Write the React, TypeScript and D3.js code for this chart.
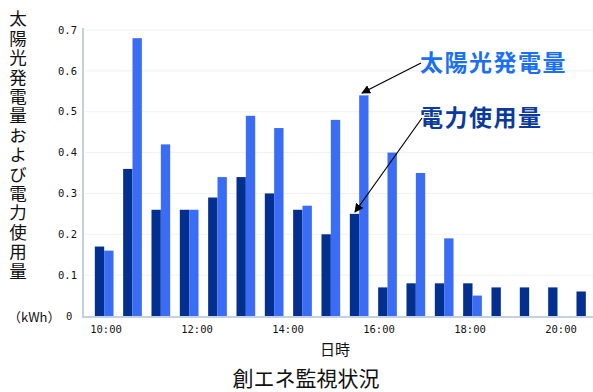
import React from "react";
import * as d3 from "d3";

const slots = ["10:00","10:30","11:00","11:30","12:00","12:30","13:00","13:30","14:00","14:30","15:00","15:30","16:00","16:30","17:00","17:30","18:00","18:30"];
const usage = [0.17,0.36,0.26,0.26,0.29,0.34,0.30,0.26,0.20,0.25,0.07,0.08,0.08,0.08,0.07,0.07,0.07,0.06];
const solar = [0.16,0.68,0.42,0.26,0.34,0.49,0.46,0.27,0.48,0.54,0.40,0.35,0.19,0.05,0,0,0,0];
const xTickLabels = ["10:00","12:00","14:00","16:00","18:00","20:00"];
const yTicks = [0,0.1,0.2,0.3,0.4,0.5,0.6,0.7];
const seriesKeys = ["usage","solar"];

const W = 593, H = 392;
const DARK = "#03308f";
const LIGHT = "#3a6cf5";

export default function App() {
  const y = d3.scaleLinear().domain([0, 0.7]).range([316, 30]);
  const x = d3.scaleBand<string>().domain(slots).range([90, 600]).paddingInner(0.34).paddingOuter(0.17);
  const xi = d3.scaleBand<string>().domain(seriesKeys).range([0, x.bandwidth()]);
  const xt = d3.scalePoint<string>().domain(xTickLabels).range([106, 561]);
  const jp = "'Noto Sans CJK JP', sans-serif";
  const mono = "'DejaVu Sans Mono', monospace";
  const data = slots.map((s, i) => ({ s, usage: usage[i], solar: solar[i] }));

  return (
    <svg width={W} height={H} style={{ position: "absolute", left: 0, top: 0, background: "#fff" }}>
      <defs>
        <marker id="ah" viewBox="0 0 10 10" refX="9" refY="5" markerWidth="9" markerHeight="9" orient="auto" markerUnits="userSpaceOnUse">
          <path d="M0,0 L10,5 L0,10 z" fill="#000" />
        </marker>
      </defs>
      {yTicks.filter(t => t > 0).map(t => (
        <line key={t} x1={85} x2={593} y1={y(t)} y2={y(t)} stroke="#f1f1f1" strokeWidth={1} />
      ))}
      {data.map(d => (
        <g key={d.s} transform={`translate(${x(d.s)},0)`}>
          <rect x={xi("usage")} y={y(d.usage)} width={xi.bandwidth()} height={y(0) - y(d.usage)} fill={DARK} />
          {d.solar > 0 && (
            <rect x={xi("solar")} y={y(d.solar)} width={xi.bandwidth()} height={y(0) - y(d.solar)} fill={LIGHT} />
          )}
        </g>
      ))}
      <line x1={83} x2={83} y1={28} y2={318} stroke="#c3d0e0" strokeWidth={2} />
      <line x1={82} x2={593} y1={317} y2={317} stroke="#c3d0e0" strokeWidth={2} />
      {yTicks.map(t => (
        <text key={t} x={t === 0 ? 66 : 58} y={y(t)} dy="0.35em" fontFamily={mono} fontSize={10.5} fill="#111">
          {t === 0 ? "0" : t.toFixed(1)}
        </text>
      ))}
      {xTickLabels.map(l => (
        <text key={l} x={xt(l)} y={333} textAnchor="middle" fontFamily={mono} fontSize={10.5} fill="#111">{l}</text>
      ))}
      <text x={18} y={10} fontFamily={jp} fontSize={17.5} letterSpacing={1.9} fill="#111" style={{ writingMode: "vertical-rl" }}>太陽光発電量および電力使用量</text>
      <text x={8} y={317} dy="0.35em" fontFamily={jp} fontSize={13} fill="#111">（kWh）</text>
      <text x={335} y={350} dy="0.35em" textAnchor="middle" fontFamily={jp} fontSize={15} fill="#111">日時</text>
      <text x={306} y={379} dy="0.35em" textAnchor="middle" fontFamily={jp} fontSize={21} fill="#111">創エネ監視状況</text>
      <text x={420} y={63} dy="0.35em" fontFamily={jp} fontSize={23} letterSpacing={1.5} fontWeight="bold" fill="#1b6ff3">太陽光発電量</text>
      <text x={420} y={118} dy="0.35em" fontFamily={jp} fontSize={23} letterSpacing={1.5} fontWeight="bold" fill="#0a3a9c">電力使用量</text>
      <line x1={421} y1={63} x2={362} y2={93} stroke="#000" strokeWidth={1.2} markerEnd="url(#ah)" />
      <line x1={422} y1={118} x2={355} y2={212} stroke="#000" strokeWidth={1.2} markerEnd="url(#ah)" />
    </svg>
  );
}
